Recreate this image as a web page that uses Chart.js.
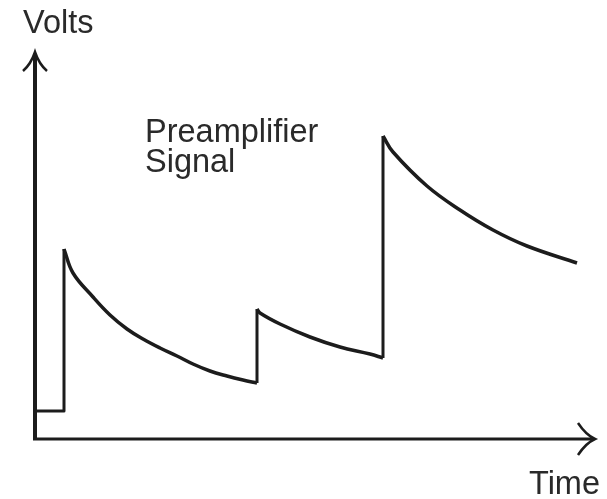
<!DOCTYPE html>
<html>
<head>
<meta charset="utf-8">
<script src="https://cdn.jsdelivr.net/npm/chart.js@4.4.0/dist/chart.umd.min.js"></script>
<style>
  html, body { margin: 0; padding: 0; background: #fff; }
  #wrap { width: 607px; height: 499px; }
</style>
</head>
<body>
<div id="wrap"><canvas id="chart" width="607" height="499"></canvas></div>
<script>
// signal (arbitrary time / volt units)
// straight parts: baseline and the three jumps
const stepTime = [0, 29, 29, null, 222, 222, null, 348, 348];
const stepVolts = [28, 28, 190, null, 56, 130, null, 81, 303];
// the three decays
const decay1Time = [29, 38, 58, 75, 92, 108, 125, 142, 158, 175, 192, 208, 222];
const decay1Volts = [190, 166, 142, 124, 110, 100, 91, 83, 75, 68, 63, 59, 56];
const decay2Time = [222, 225, 245, 275, 305, 335, 348];
const decay2Volts = [130, 126, 115, 102, 92, 85, 81];
const decay3Time = [348, 358, 392, 425, 458, 492, 542];
const decay3Volts = [303, 287, 253, 229, 209, 193, 176];

const xMax = 560;
const yMax = 387;
const ink = "#1c1c1c";

const pts = (t, v) => t.map((x, i) => ({ x: x, y: v[i] }));

// axes with arrow heads plus the text labels
const sketchAxes = {
  id: "sketchAxes",
  afterDatasetsDraw(chart) {
    const { ctx, scales } = chart;
    const x0 = scales.x.getPixelForValue(0);
    const y0 = scales.y.getPixelForValue(0);
    const xEnd = scales.x.getPixelForValue(xMax);
    const yEnd = scales.y.getPixelForValue(yMax);
    ctx.save();
    ctx.strokeStyle = ink;
    ctx.lineCap = "butt";

    // y axis
    ctx.lineWidth = 4;
    ctx.beginPath();
    ctx.moveTo(x0, y0 + 1);
    ctx.lineTo(x0, yEnd + 2);
    ctx.stroke();
    ctx.lineWidth = 2.5;
    ctx.beginPath();
    ctx.moveTo(x0 - 12, yEnd + 19);
    ctx.quadraticCurveTo(x0 - 4, yEnd + 12, x0, yEnd);
    ctx.quadraticCurveTo(x0 + 4, yEnd + 12, x0 + 12, yEnd + 19);
    ctx.stroke();

    // x axis
    ctx.lineWidth = 3;
    ctx.beginPath();
    ctx.moveTo(x0 - 2, y0);
    ctx.lineTo(xEnd - 2, y0);
    ctx.stroke();
    ctx.lineWidth = 2.5;
    ctx.beginPath();
    ctx.moveTo(xEnd - 17, y0 - 16);
    ctx.quadraticCurveTo(xEnd - 9, y0 - 4, xEnd, y0);
    ctx.quadraticCurveTo(xEnd - 9, y0 + 4, xEnd - 17, y0 + 16);
    ctx.stroke();

    // labels
    ctx.fillStyle = "#2a2a2a";
    ctx.font = "32.5px 'Liberation Sans', Arial, sans-serif";
    ctx.textBaseline = "alphabetic";
    ctx.textAlign = "left";
    ctx.fillText("Volts", 23, 33);
    ctx.fillText("Time", 529, 494);
    ctx.fillText("Preamplifier", 145, 142);
    ctx.fillText("Signal", 145, 172);
    ctx.restore();
  }
};

const lineStyle = {
  showLine: true,
  borderColor: ink,
  pointRadius: 0,
  spanGaps: false,
  borderJoinStyle: "round"
};

new Chart(document.getElementById("chart"), {
  type: "scatter",
  data: {
    datasets: [
      { ...lineStyle, data: pts(stepTime, stepVolts), borderWidth: 3, tension: 0 },
      { ...lineStyle, data: pts(decay1Time, decay1Volts), borderWidth: 3.5, tension: 0.4 },
      { ...lineStyle, data: pts(decay2Time, decay2Volts), borderWidth: 3.5, tension: 0.4 },
      { ...lineStyle, data: pts(decay3Time, decay3Volts), borderWidth: 3.5, tension: 0.4 }
    ]
  },
  options: {
    responsive: false,
    animation: false,
    layout: { padding: { left: 35, right: 12, top: 52, bottom: 60 } },
    plugins: { legend: { display: false }, tooltip: { enabled: false } },
    scales: {
      x: { type: "linear", min: 0, max: xMax, display: false },
      y: { type: "linear", min: 0, max: yMax, display: false }
    }
  },
  plugins: [sketchAxes]
});
</script>
</body>
</html>
